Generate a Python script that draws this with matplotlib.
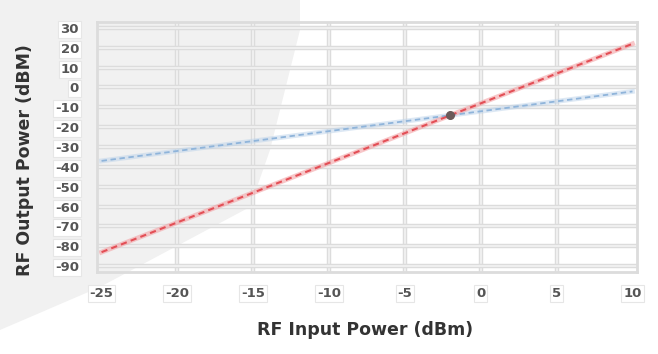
"""Two-tone intercept plot: fundamental vs third-order output power."""

import matplotlib as mpl
mpl.use("Agg")
import matplotlib.pyplot as plt
from matplotlib.patches import Polygon

plt.rcParams["axes.unicode_minus"] = False

# data
INPUT_DBM   = [-25, -20, -15, -10, -5, 0, 5, 10]
IM3_DBM     = [-83, -68, -53, -38, -23, -8, 7, 22]     # red, slope 3
FUND_DBM    = [-37, -32, -27, -22, -17, -12, -7, -2]   # blue, slope 1
INTERCEPT   = (-2, -14)

X_TICKS = [-25, -20, -15, -10, -5, 0, 5, 10]
Y_TICKS = [30, 20, 10, 0, -10, -20, -30, -40, -50, -60, -70, -80, -90]

C_RED   = "#e34f56"
C_GRID  = "#dcdcdc"
C_TICK  = "#555555"

fig = plt.figure(figsize=(6.58, 3.54), dpi=100)
fig.patch.set_facecolor("white")

# faint gray wash in the upper-left of the original scan
W, H = 658, 354
wash = [(0, 0), (300, 0), (300, 30), (270, 150), (250, 207), (100, 287), (0, 330)]
fig.patches.append(Polygon([(x / W, 1 - y / H) for x, y in wash], closed=True,
                           transform=fig.transFigure, facecolor="#f1f1f1",
                           edgecolor="none", zorder=-5))

ax = fig.add_axes([97 / W, 1 - 272 / H, 540 / W, 250 / H])
ax.set_zorder(2)
ax.set_facecolor("none")
ax.set_xlim(-25.3, 10.3)
ax.set_ylim(-93, 33)

# doubled-looking grid: pale band with a lighter core
for x in X_TICKS[1:-1]:
    ax.axvline(x, color=C_GRID, lw=3.2, zorder=1)
    ax.axvline(x, color="#f4f4f4", lw=1.2, zorder=1)
for y in Y_TICKS:
    ax.axhline(y, color=C_GRID, lw=3.2, zorder=1)
    ax.axhline(y, color="#f4f4f4", lw=1.2, zorder=1)

for s in ax.spines.values():
    s.set_color(C_GRID)
    s.set_linewidth(2.0)

# fundamental (blue) and third-order (red)
ax.plot(INPUT_DBM, FUND_DBM, color="#bcd3ea", lw=3.5, alpha=0.5, zorder=2)
ax.plot(INPUT_DBM, FUND_DBM, color="#8fb4da", lw=1.3, ls=(0, (3, 2)), zorder=3)
ax.plot(INPUT_DBM, IM3_DBM, color="#f3a3a6", lw=3.5, alpha=0.6, zorder=2)
ax.plot(INPUT_DBM, IM3_DBM, color=C_RED, lw=1.5, ls=(0, (3, 2)), zorder=3)
ax.plot(*INTERCEPT, "o", color="#6b5a5a", ms=5.5, zorder=4)

ax.set_xticks(X_TICKS)
ax.set_yticks(Y_TICKS)
ax.tick_params(length=0, labelsize=9.5, colors=C_TICK)
ax.tick_params(axis="x", pad=11)
ax.tick_params(axis="y", pad=13)
box = dict(boxstyle="square,pad=0.15", facecolor="white", edgecolor="#e6e6e6", lw=0.8)
for lab in ax.get_xticklabels() + ax.get_yticklabels():
    lab.set_bbox(box)
    lab.set_fontweight("bold")

fig.text(25 / W, 1 - 160 / H, "RF Output Power (dBM)", rotation=90,
         ha="center", va="center", fontsize=12.5, fontweight="bold", color="#333333")
fig.text(365 / W, 1 - 330 / H, "RF Input Power (dBm)",
         ha="center", va="center", fontsize=12.5, fontweight="bold", color="#333333")

fig.savefig("out.png", dpi=100)
